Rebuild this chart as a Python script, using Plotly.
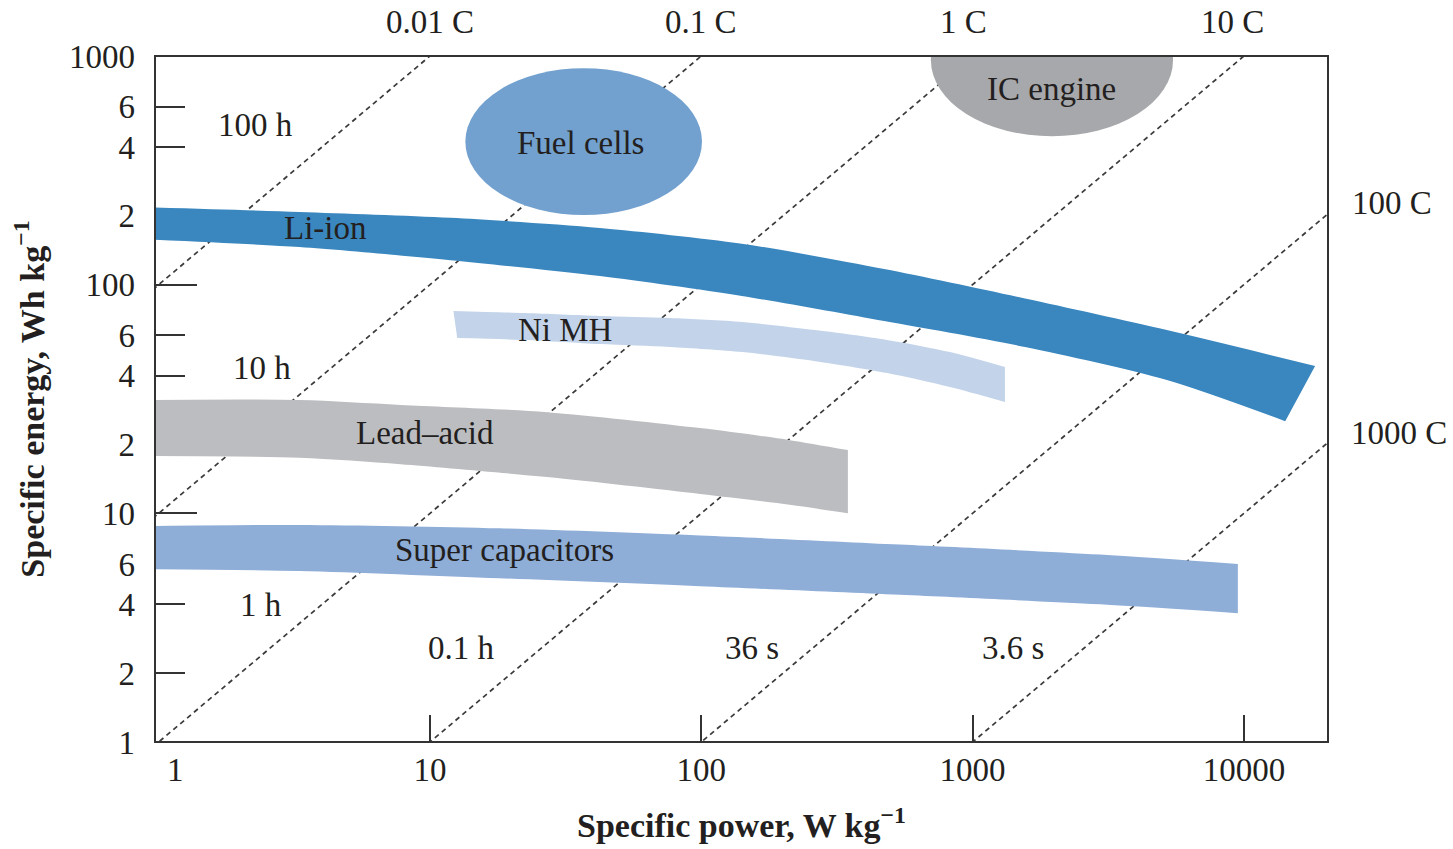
import plotly.graph_objects as go

# ---------------- data ----------------
# Constant discharge-time lines  E = P * t   (t in hours)
discharge_hours = [100, 10, 1, 0.1, 0.01, 0.001]
line_power_ends = [0.5, 40000]

# Li-ion band
li_ion_power_upper = [0.9, 3.3, 11.9, 42.3, 141, 472, 1560, 5200, 18300]
li_ion_energy_upper = [218, 208, 196, 177, 151, 117, 87, 63.3, 44.1]
li_ion_power_lower = [0.9, 3.3, 11.9, 42.3, 141, 472, 1560, 5200, 14200]
li_ion_energy_lower = [158, 146, 128, 109, 89.2, 69.3, 53.4, 38.3, 25.3]

# Ni MH band
nimh_power_upper = [12.2, 22.4, 42.3, 76.7, 142, 263, 484, 825, 1316]
nimh_energy_upper = [76.7, 75.1, 72.9, 71.4, 68.6, 63.3, 57.3, 50.7, 43.6]
nimh_power_lower = [12.6, 22.4, 42.3, 76.7, 142, 263, 484, 825, 1316]
nimh_energy_lower = [58.4, 57.3, 55.0, 53.4, 50.7, 46.3, 41.1, 35.7, 30.7]

# Lead-acid band
lead_power = [0.9, 3.3, 7.8, 27, 99, 212, 347]
lead_energy_upper = [31.3, 31.3, 29.8, 27.7, 23.6, 20.9, 18.9]
lead_energy_lower = [17.8, 17.5, 16.4, 14.4, 12.15, 10.9, 10.0]

# Super capacitors band
supercap_power = [0.9, 3.3, 18, 99, 540, 2950, 9500]
supercap_energy_upper = [8.8, 8.9, 8.6, 8.0, 7.3, 6.6, 6.0]
supercap_energy_lower = [5.7, 5.6, 5.2, 4.8, 4.4, 4.0, 3.66]

# Ellipses (power range, energy range)
fuel_cell_power = [13.5, 100.6]
fuel_cell_energy = [201.5, 885]
ic_engine_power = [702, 5480]
ic_engine_energy = [446, 2062]

# Axis ticks
x_tick_values = [1, 10, 100, 1000, 10000]
x_tick_text = ["\u00a0\u00a0\u00a0\u00a01", "10", "100", "1000", "10000"]
x_major_ticks = [10, 100, 1000, 10000]
y_tick_values = [1, 2, 4, 6, 10, 20, 40, 60, 100, 200, 400, 600, 1000]
y_tick_text = ["1", "2", "4", "6", "10", "2", "4", "6", "100", "2", "4", "6", "1000"]
y_major_ticks = [10, 100]

time_labels = ["100 h", "10 h", "1 h", "0.1 h", "36 s", "3.6 s"]
c_rate_labels = ["0.01 C", "0.1 C", "1 C", "10 C", "100 C", "1000 C"]

# ---------------- styling ----------------
SERIF = "Liberation Serif, DejaVu Serif, Times New Roman, serif"
TEXT = "#231f20"
AXIS = "#333333"
FS = 33

C_LIION = "#3a87bf"
C_NIMH = "#c3d4ea"
C_LEAD = "#bcbdc0"
C_SCAP = "#8eadd7"
C_FUEL = "#72a1cf"
C_ICE = "#a7a8ab"

fig = go.Figure()

# dashed constant-time lines (below the regions)
for t in discharge_hours:
    fig.add_trace(go.Scatter(
        x=line_power_ends, y=[p * t for p in line_power_ends],
        mode="lines", line=dict(color="#3a3a3a", width=1.7, dash="5px,4px"),
        hoverinfo="skip", showlegend=False))

bands = [
    (li_ion_power_upper, li_ion_energy_upper, li_ion_power_lower, li_ion_energy_lower, C_LIION),
    (nimh_power_upper, nimh_energy_upper, nimh_power_lower, nimh_energy_lower, C_NIMH),
    (lead_power, lead_energy_upper, lead_power, lead_energy_lower, C_LEAD),
    (supercap_power, supercap_energy_upper, supercap_power, supercap_energy_lower, C_SCAP),
]
for pu, eu, pl, el, col in bands:
    fig.add_trace(go.Scatter(x=pu, y=eu, mode="lines",
                             line=dict(width=0, color=col, shape="spline", smoothing=0.8),
                             hoverinfo="skip", showlegend=False))
    fig.add_trace(go.Scatter(x=pl, y=el, mode="lines", fill="tonexty", fillcolor=col,
                             line=dict(width=0, color=col, shape="spline", smoothing=0.8),
                             hoverinfo="skip", showlegend=False))

# dummy trace so the overlay axes (long ticks) are rendered
fig.add_trace(go.Scatter(x=[1], y=[1], xaxis="x2", yaxis="y2", mode="markers",
                         marker=dict(opacity=0), hoverinfo="skip", showlegend=False))

shapes = [
    dict(type="circle", xref="x", yref="y",
         x0=fuel_cell_power[0], x1=fuel_cell_power[1],
         y0=fuel_cell_energy[0], y1=fuel_cell_energy[1],
         fillcolor=C_FUEL, line=dict(width=0), layer="above"),
    dict(type="circle", xref="x", yref="y",
         x0=ic_engine_power[0], x1=ic_engine_power[1],
         y0=ic_engine_energy[0], y1=ic_engine_energy[1],
         fillcolor=C_ICE, line=dict(width=0), layer="above"),
    dict(type="rect", xref="paper", yref="paper", x0=0, x1=1, y0=0, y1=1,
         line=dict(color=AXIS, width=2), fillcolor="rgba(0,0,0,0)", layer="above"),
]

W, H = 1453, 849
L, R, T, B = 155, 125, 56, 107
PW, PH = W - L - R, H - T - B


def px(xp):
    return (xp - L) / PW


def py(yp):
    return (H - B - yp) / PH


label_pos = [
    # C-rate labels
    (c_rate_labels[0], 430, 22), (c_rate_labels[1], 701, 22),
    (c_rate_labels[2], 963, 22), (c_rate_labels[3], 1232, 22),
    (c_rate_labels[4], 1392, 203), (c_rate_labels[5], 1399, 433),
    # time labels
    (time_labels[0], 255, 125), (time_labels[1], 262, 368), (time_labels[2], 261, 605),
    (time_labels[3], 461, 648), (time_labels[4], 752, 648), (time_labels[5], 1013, 648),
    # region labels
    ("Fuel cells", 580, 143), ("IC engine", 1051, 89), ("Li-ion", 325, 228),
    ("Ni MH", 565, 330), ("Lead\u2013acid", 425, 433), ("Super capacitors", 504, 550),
]
annotations = [
    dict(text=txt, x=px(xx), y=py(yy), xref="paper", yref="paper",
         xanchor="center", yanchor="middle", showarrow=False,
         font=dict(family=SERIF, size=FS, color=TEXT))
    for txt, xx, yy in label_pos
]

x_range = [-0.0136, 4.31]
y_range = [0, 3]

fig.update_layout(
    width=W, height=H,
    margin=dict(l=L, r=R, t=T, b=B, pad=0),
    paper_bgcolor="white", plot_bgcolor="white",
    showlegend=False,
    shapes=shapes,
    annotations=annotations,
    xaxis=dict(type="log", range=x_range, tickvals=x_tick_values, ticktext=x_tick_text,
               ticks="", showline=False, showgrid=False, zeroline=False,
               tickfont=dict(family=SERIF, size=FS, color=TEXT),
               ticklabelstandoff=5,
               title=dict(text="<b>Specific power, W kg<sup>\u22121</sup></b>",
                          font=dict(family=SERIF, size=34, color=TEXT), standoff=26)),
    xaxis2=dict(type="log", range=x_range, overlaying="x", anchor="y", side="bottom",
                tickvals=x_major_ticks, ticks="inside", ticklen=27, tickwidth=2,
                tickcolor=AXIS, showticklabels=False, showline=False,
                showgrid=False, zeroline=False),
    yaxis=dict(type="log", range=y_range, tickvals=y_tick_values, ticktext=y_tick_text,
               ticks="inside", ticklen=30, tickwidth=2, tickcolor=AXIS,
               layer="below traces", showline=False, showgrid=False, zeroline=False,
               tickfont=dict(family=SERIF, size=FS, color=TEXT),
               ticklabelstandoff=19,
               title=dict(text="<b>Specific energy, Wh kg<sup>\u22121</sup></b>",
                          font=dict(family=SERIF, size=34, color=TEXT), standoff=14)),
    yaxis2=dict(type="log", range=y_range, overlaying="y", anchor="x", side="left",
                tickvals=y_major_ticks, ticks="inside", ticklen=42, tickwidth=2,
                tickcolor=AXIS, showticklabels=False, showline=False,
                showgrid=False, zeroline=False),
)

fig.write_html("out.html", config={"displayModeBar": False},
               post_script="document.body.style.margin='0';")
